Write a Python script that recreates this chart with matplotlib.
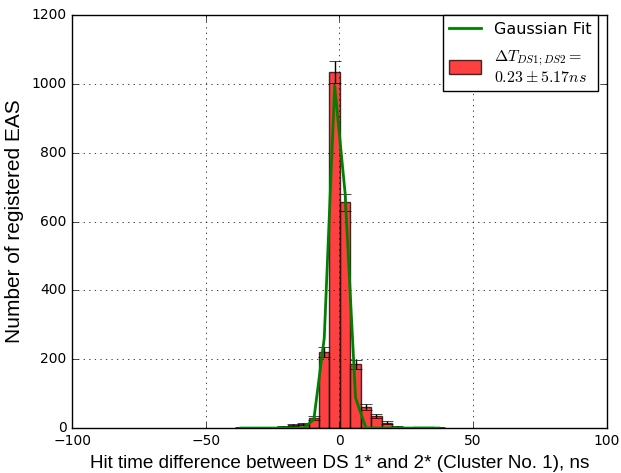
import numpy as np
import matplotlib
matplotlib.use("Agg")
import matplotlib.pyplot as plt

# histogram of hit time differences (bin width ~3.9 ns)
bin_edges = [-38.8, -34.9, -31.0, -27.1, -23.2, -19.3, -15.4, -11.5, -7.6, -3.7, 0.2,
             4.1, 8.0, 11.9, 15.8, 19.7, 23.6, 27.5, 31.4, 35.3, 39.2]
counts = [1, 0, 0, 0, 4, 9, 12, 30, 221, 1034, 656, 185, 61, 34, 16, 4, 1, 2, 2, 1]
# gaussian fit evaluated at bin centres
fit_vals = [0, 0, 0, 0, 0, 0, 0, 25, 262, 995, 682, 88, 0, 0, 0, 0, 0, 0, 0, 0]

fit_label = "Gaussian Fit"
hist_label = "$\\Delta T_{DS1;DS2} =$\n$0.23 \\pm 5.17 ns$"
xlabel = "Hit time difference between DS 1* and 2* (Cluster No. 1), ns"
ylabel = "Number of registered EAS"

plt.style.use("classic")
plt.rcParams["mathtext.fontset"] = "cm"

edges = np.array(bin_edges)
centers = (edges[:-1] + edges[1:]) / 2
widths = np.diff(edges)
cnt = np.array(counts)

fig = plt.figure(figsize=(6.21, 4.73), dpi=100, facecolor="white")
ax = fig.add_axes([0.116, 0.095, 0.861, 0.873])

ax.plot(centers, fit_vals, color="g", linewidth=2, label=fit_label, zorder=3)
ax.bar(edges[:-1], cnt, width=widths, align="edge", color="red", alpha=0.75,
       edgecolor="black", linewidth=1, label=hist_label)
ax.errorbar(centers, cnt, yerr=np.sqrt(cnt), fmt="none", ecolor="black",
            capsize=4, elinewidth=1)

ax.set_xlim(-100, 100)
ax.set_ylim(0, 1200)
ax.set_xticks([-100, -50, 0, 50, 100])
ax.set_yticks([0, 200, 400, 600, 800, 1000, 1200])
ax.tick_params(labelsize=10)
ax.grid(True)

ax.set_xlabel(xlabel, fontsize=13.6, family="Liberation Sans")
ax.set_ylabel(ylabel, fontsize=15, family="Liberation Sans")

leg = ax.legend(loc="upper right", fontsize=11.5, fancybox=False, numpoints=1,
                bbox_to_anchor=(0.983, 1.0), borderaxespad=0, handleheight=1.0,
                labelspacing=0.7)
for t in leg.get_texts():
    t.set_multialignment("left")

fig.savefig("out.png", dpi=100, facecolor="white")
